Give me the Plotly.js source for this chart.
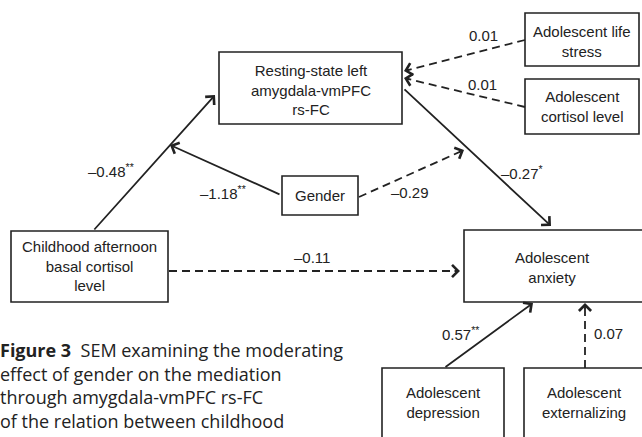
<!DOCTYPE html>
<html>
<head>
<meta charset="utf-8">
<script src="https://cdn.plot.ly/plotly-3.0.1.min.js"></script>
<style>html,body{margin:0;padding:0;background:#fff;}#chart{width:642px;height:437px;}</style>
</head>
<body>
<div id="chart"></div>
<script>
// ---- data ----
const nodeLabels = [
  'Resting-state left<br>amygdala-vmPFC<br>rs-FC',
  'Adolescent life<br>stress',
  'Adolescent<br>cortisol level',
  'Gender',
  'Childhood afternoon<br>basal cortisol<br>level',
  'Adolescent<br>anxiety',
  'Adolescent<br>depression',
  'Adolescent<br>externalizing'
];
const pathNames = [
  'Childhood cortisol -> rs-FC',
  'Gender x (Childhood cortisol -> rs-FC)',
  'Gender x (rs-FC -> Anxiety)',
  'rs-FC -> Anxiety',
  'Life stress -> rs-FC',
  'Adolescent cortisol -> rs-FC',
  'Childhood cortisol -> Anxiety',
  'Depression -> Anxiety',
  'Externalizing -> Anxiety'
];
const coefficients = [-0.48, -1.18, -0.29, -0.27, 0.01, 0.01, -0.11, 0.57, 0.07];
const significance = ['**', '**', '', '*', '', '', '', '**', ''];
const captionLines = [
  '<b>Figure 3</b>  SEM examining the moderating',
  'effect of gender on the mediation',
  'through amygdala-vmPFC rs-FC',
  'of the relation between childhood'
];

// ---- layout geometry (pixels, y downward) ----
const nodeBoxes = [
  [219, 402, 52, 124],
  [525, 639, 13, 66],
  [525, 639, 79, 134],
  [282, 358, 176, 215],
  [11, 168, 231, 302],
  [464, 645, 230, 302],
  [382, 504, 368, 445],
  [524, 645, 368, 445]
];
const nodeTextPos = [
  [310.5, 90], [582, 41], [582, 106], [320, 195],
  [89.5, 266], [552.5, 267], [443, 402.5], [584, 402.5]
];
const pathGeom = [
  {tail: [93, 231], tip: [215, 95]},
  {tail: [281, 195], tip: [170, 145]},
  {tail: [359, 197], tip: [464, 150]},
  {tail: [403, 88], tip: [551, 226]},
  {tail: [525, 40], tip: [404, 71]},
  {tail: [525, 107], tip: [404, 78]},
  {tail: [169, 271], tip: [460, 271]},
  {tail: [444, 368], tip: [533, 303]},
  {tail: [585, 368], tip: [585, 303]}
];
const labelPos = [
  [111, 170], [223, 192], [410, 192], [522, 172], [483, 35],
  [482, 84], [312, 257], [460, 333], [608, 333]
];
const captionY = [350, 373.5, 397, 421];

const ink = '#222';
const nodeFont = {family: 'Liberation Sans, Arial, sans-serif', size: 15, color: ink};

function fmt(v, sig) {
  const s = (v < 0 ? '\u2013' : '') + Math.abs(v).toFixed(2);
  return sig ? s + '<sup>' + sig + '</sup>' : s;
}

const shapes = [];
const annotations = [];

nodeBoxes.forEach((b, i) => {
  shapes.push({type: 'rect', xref: 'x', yref: 'y', x0: b[0], x1: b[1], y0: b[2], y1: b[3],
    line: {color: ink, width: 1.6}, fillcolor: 'rgba(0,0,0,0)'});
  annotations.push({x: nodeTextPos[i][0], y: nodeTextPos[i][1], xref: 'x', yref: 'y',
    text: nodeLabels[i], showarrow: false, font: nodeFont, align: 'center',
    xanchor: 'center', yanchor: 'middle'});
});

coefficients.forEach((v, i) => {
  const g = pathGeom[i];
  const dashed = significance[i] === '';
  const dx = g.tip[0] - g.tail[0], dy = g.tip[1] - g.tail[1];
  const len = Math.hypot(dx, dy);
  const ux = dx / len, uy = dy / len;
  let ax = g.tail[0], ay = g.tail[1];
  if (dashed) {
    shapes.push({type: 'line', xref: 'x', yref: 'y',
      x0: g.tail[0], y0: g.tail[1], x1: g.tip[0] - ux * 4, y1: g.tip[1] - uy * 4,
      line: {color: ink, width: 1.8, dash: '8px,5px'}});
    ax = g.tip[0] - ux * 7; ay = g.tip[1] - uy * 7;
  }
  annotations.push({x: g.tip[0], y: g.tip[1], ax: ax, ay: ay, xref: 'x', yref: 'y',
    axref: 'x', ayref: 'y', text: '', showarrow: true, arrowhead: 4, arrowsize: 1.3,
    arrowwidth: 1.8, arrowcolor: ink});
  annotations.push({x: labelPos[i][0], y: labelPos[i][1], xref: 'x', yref: 'y',
    text: fmt(v, significance[i]), showarrow: false, font: nodeFont,
    xanchor: 'center', yanchor: 'middle'});
});

captionLines.forEach((t, i) => {
  annotations.push({x: -2 / 642, y: captionY[i], xref: 'paper', yref: 'y', text: t, showarrow: false,
    xanchor: 'left', yanchor: 'middle', align: 'left',
    font: {family: 'Open Sans, Noto Sans, sans-serif', size: 18, color: ink}});
});

const layout = {
  width: 642, height: 437,
  margin: {l: 0, r: 0, t: 0, b: 0},
  paper_bgcolor: '#fff', plot_bgcolor: '#fff',
  xaxis: {range: [0, 642], visible: false, fixedrange: true},
  yaxis: {range: [437, 0], visible: false, fixedrange: true},
  shapes: shapes,
  annotations: annotations,
  showlegend: false
};

Plotly.newPlot('chart', [], layout, {staticPlot: true, displayModeBar: false});
</script>
</body>
</html>
